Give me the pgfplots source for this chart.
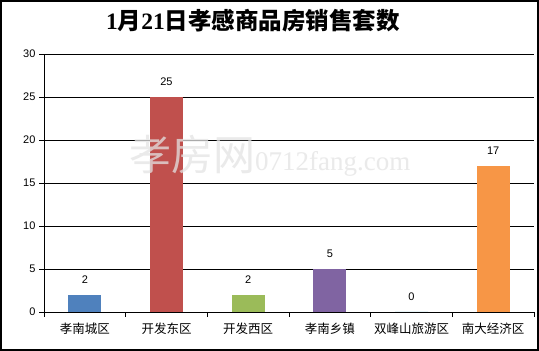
\documentclass[border=0pt]{standalone}
\usepackage{fontspec}
\usepackage{pgfplots}
\pgfplotsset{compat=1.18}
\setmainfont{Liberation Sans}
\newfontfamily\cjk{Noto Sans CJK SC}
\newfontfamily\serifb{Liberation Serif}
\definecolor{c1}{HTML}{4F81BD}
\definecolor{c2}{HTML}{C0504D}
\definecolor{c3}{HTML}{9BBB59}
\definecolor{c4}{HTML}{8064A2}
\definecolor{c5}{HTML}{4BACC6}
\definecolor{c6}{HTML}{F79646}
\begin{document}
\begin{tikzpicture}[x=1pt,y=1pt]
\useasboundingbox (0,0) rectangle (539,351);
\fill[white] (0,0) rectangle (539,351);
\begin{axis}[
  at={(44pt,39pt)}, anchor=south west,
  scale only axis, width=490pt, height=258pt,
  xmin=-0.5, xmax=5.5, ymin=0, ymax=30,
  ytick={0,5,...,30},
  ymajorgrids, grid style={black, line width=0.6pt},
  axis x line*=bottom, axis y line*=left,
  axis line style={black, line width=0.8pt, -},
  xtick={0,1,2,3,4,5},
  xticklabels={孝南城区,开发东区,开发西区,孝南乡镇,双峰山旅游区,南大经济区},
  major x tick style={draw=none},
  minor xtick={-0.5,0.5,1.5,2.5,3.5,4.5,5.5},
  minor tick length=5pt, major tick length=5pt,
  tick align=outside,
  tick style={black, line width=0.6pt},
  x tick label style={font=\cjk\fontsize{12.5}{14}\selectfont, yshift=-2pt},
  y tick label style={font=\fontsize{11}{13}\selectfont},
  /pgf/number format/assume math mode=true,
  ybar, bar shift=0pt, bar width=33pt,
  nodes near coords,
  every node near coord/.append style={font=\fontsize{11}{13}\selectfont, black, yshift=8pt},
  clip=false,
]
\addplot[fill=c1, draw=none] coordinates {(0,2)};
\addplot[fill=c2, draw=none] coordinates {(1,25)};
\addplot[fill=c3, draw=none] coordinates {(2,2)};
\addplot[fill=c4, draw=none] coordinates {(3,5)};
\addplot[fill=c5, draw=none] coordinates {(4,0)};
\addplot[fill=c6, draw=none] coordinates {(5,17)};
\end{axis}
\node[anchor=west, text=gray!22, opacity=0.75, inner sep=0pt] at (129,195) {\cjk\fontsize{42}{42}\selectfont 孝房网\serifb\fontsize{27}{27}\selectfont 0712fang.com};
\node[inner sep=0pt] at (253,330) {\fontsize{23.5}{25}\selectfont\bfseries\serifb 1\cjk 月\serifb 21\cjk 日孝感商品房销售套数};
\draw[line width=2pt] (1,1) rectangle (538,350);
\end{tikzpicture}
\end{document}
